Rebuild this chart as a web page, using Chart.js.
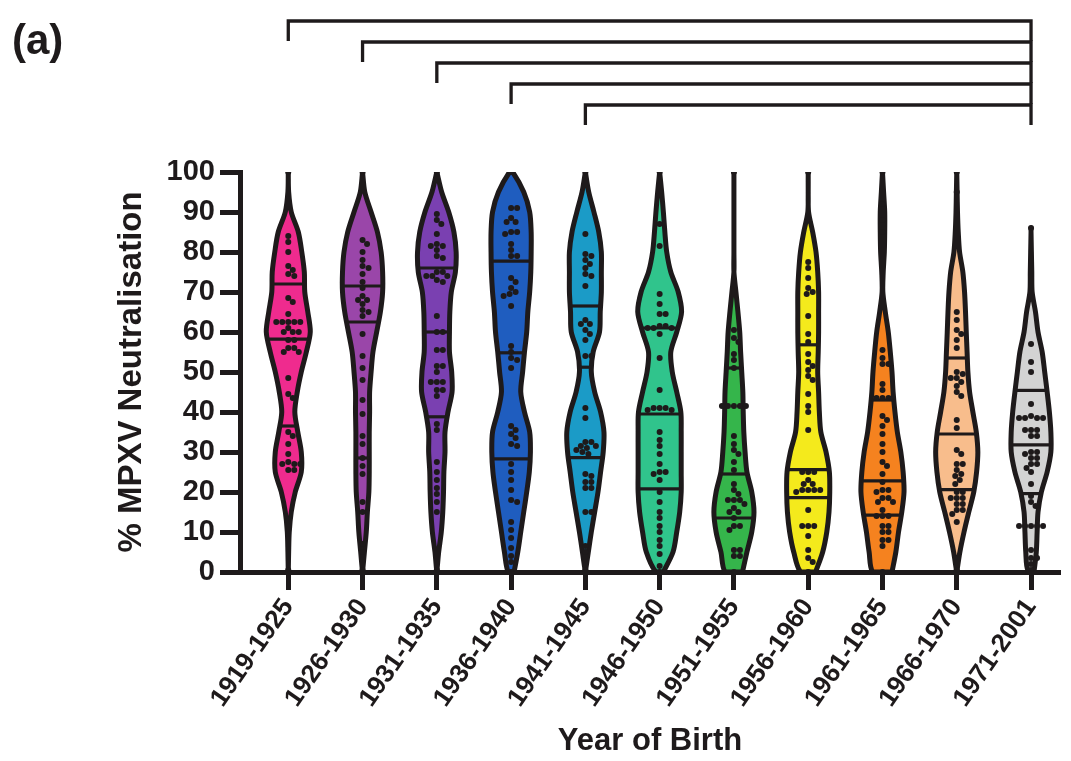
<!DOCTYPE html>
<html>
<head>
<meta charset="utf-8">
<script src="https://cdn.jsdelivr.net/npm/chart.js@4.4.0/dist/chart.umd.min.js"></script>
<style>
html,body{margin:0;padding:0;background:#ffffff;}
#wrap{width:1071px;height:761px;position:relative;}
</style>
</head>
<body>
<div id="wrap"><canvas id="c" width="1071" height="761"></canvas></div>
<script>
// ---------- data ----------
const panelLabel = '(a)';
const xTitle = 'Year of Birth';
const yTitle = '% MPXV Neutralisation';
const categories = ['1919-1925','1926-1930','1931-1935','1936-1940','1941-1945','1946-1950','1951-1955','1956-1960','1961-1965','1966-1970','1971-2001'];
const yTicks = [0,10,20,30,40,50,60,70,80,90,100];

// density profile levels (% neutralisation) and violin half-widths (hundredths of a category)
const levels = [0,5,10,15,20,25,30,35,40,45,50,55,60,65,70,75,80,85,90,95,100];
const width_1919_1925 = [0,0.5,1.3,4,9.4,17.5,17.5,12.8,8.8,12.1,17.5,24.3,29.6,26.3,22.2,21.6,18.2,13.5,4,0.5,0];
const width_1926_1930 = [0,2.5,5,6.5,8.5,9,9,9,9.5,9.5,11.5,14,19,24,27,27,25,20,11.5,3,0];
const width_1931_1935 = [0,2.5,6,8,9,9.5,11,11,15,20.5,20,17,17,17.5,19.5,25,26,23,16,6.5,0];
const width_1936_1940 = [4,9,13,17,21,24.5,26,25,18,13,15.5,18,21,22.5,25,26.5,27,27,25,17,2];
const width_1941_1945 = [0,4,8,12.5,17,20.5,24,25,20.5,12.5,8,10.5,19,20,21.5,21.5,21.5,18,11.5,4.5,0];
const width_1946_1950 = [5,18,23,27,29,29,29,29,28.5,23,17,15,23,29.5,25,15,9.5,7,5,2.7,0];
const width_1951_1955 = [11.5,17.5,24,27,24,17.5,15,13.3,12.5,12,10.5,9,7.8,5.4,2.7,0,0,0,0,0,0];
const width_1956_1960 = [10,19.5,25,28,29,28.5,24,17,15,14,12.8,13.5,14,14,14,12.8,10.5,6,0.5,0,0];
const width_1961_1965 = [12.8,18,21.6,26,29,27.8,24.7,20,16.8,14.3,12.8,10.5,7.8,3.8,0.5,1,2.5,3,3,1.5,0];
const width_1966_1970 = [0,4.2,9.8,16.2,22.9,26.7,28.4,26.3,21.7,17.3,15,13.9,12.8,11.8,10.5,8.2,3.8,2,1,0.5,0];
const width_1971_2001 = [4,7.1,8.2,9.4,13.9,21.7,26.7,26.7,24.7,21.7,18.4,15,9.4,6,1.5,1,0.5,0,0,0,0];

// individual donors
const dots_1919_1925 = [100,84,82.5,80,76.5,75.5,74.5,74,68.5,67.5,64.5,62.5,62.5,62.5,62.5,62.5,61,60,60,60,58,58,56,56,55,55,48.5,44.5,43.5,35,34,32,29.5,27.5,27,27,27,25.5,25.5,0.5];
const dots_1926_1930 = [100,83,82,80,78,76.5,76,74.5,72.5,71,69,68,68,67,65.5,65,64,59.5,54,51,48,43,39.5,34,32,28.5,26.5,24.5,17.5,15,7,5,0.5];
const dots_1931_1935 = [100,89.5,88,87,84.5,82,81.5,81.5,80.5,79,78.5,75,75,74,74,74,73,72.5,64,60,60,55.5,55.5,51.5,51.5,50,47.5,47.5,47.5,45.5,45.5,44,37,35.5,27.5,25,23,21,19.5,17.5,15,0.5];
const dots_1936_1940 = [100,91,91,88.5,87.5,87.5,85,85,84.5,82,80.5,79,79,73.5,72.5,71,70,69.5,69,66.5,56.5,55,53.5,53,51,36.5,35.5,34.5,33.5,32,31.5,27,25,23,20.5,18,17.5,12.5,10.5,8.5,6,4,2.5,0];
const dots_1941_1945 = [100,84.5,79.5,79,78,77,76,74.5,74,71.5,63,62,62,60.5,59.5,58,54,54,41,38.5,32.5,32.5,31.5,31.5,31,30.5,30,29.5,24.5,24,22.5,22.5,21,21,15,15,6.5,5,0.5];
const dots_1946_1950 = [100,87,81.5,69.5,67,64.5,64.5,61.5,61.5,61,61,61,59.5,53.5,45.5,41,41,41,40.5,40.5,35,33,31.5,29.5,27,25,25,24.5,23,20,17.5,15,13.5,11.5,10,8,6.5,4.5,1.5,0];
const dots_1951_1955 = [100,60.5,58.5,57.5,54.5,53,51,41.5,41.5,41.5,41.5,41.5,34,32,30.5,29.5,27.5,25.5,22,20.5,19.5,18,18,18,17,16,15,15,13.5,11.5,11.5,10.5,5.5,5.5,4,4,0];
const dots_1956_1960 = [100,77.5,76,73.5,71,70,69.5,64,59.5,57.5,54.5,52.5,51.5,50.5,49,48,44.5,41.5,40,35.5,25,25,25,23,22,22,20.5,20.5,20.5,20.5,20,15.5,11.5,11.5,11.5,9,5.5,3.5,2.5,0];
const dots_1961_1965 = [100,92,88,85,55.5,53.5,52,52,47,45.5,43.5,43.5,43.5,39,38,36.5,34.5,32,30,27.5,26.5,24.5,22.5,20.5,20.5,20,18.5,18.5,17.5,17.5,15.5,14,14,14,11.5,11.5,10,10,8,8,6.5,0];
const dots_1966_1970 = [100,95,65,63,60.5,59.5,58,56,50,49.5,48.5,48.5,47.5,46.5,45,44,38,36,30.5,29.5,27,27,25.5,24.5,24,23,22,20,20,18.5,18.5,18.5,17,17,15.5,15.5,14.5,12.5,0.5];
const dots_1971_2001 = [86,57,52.5,50,42,39,38.5,38.5,38.5,38.5,35.5,35.5,35.5,34,34,30,30,29.5,28.5,28.5,27,27,26,25,22,19,17.5,16.5,11.5,11.5,11.5,11.5,11.5,5.5,3.5,3.5,2,0.5];

// quartiles (upper, median, lower)
const upperQuartiles = [72,71.5,76,77.7,66.5,61,51,56.8,43,53.5,45.4];
const medians        = [58.2,62.5,60,54.8,51.2,39.5,24.5,25.6,22.8,34.5,31.8];
const lowerQuartiles = [36.5,28.5,38.8,28.3,28.6,20.8,13.5,18.6,14.2,20.6,19.6];

// significance comparisons [from, to]
const comparisons = [[0,10],[1,10],[2,10],[3,10],[4,10]];

// ---------- styles ----------
const violinColors = ['#ef2b8e','#9a46a9','#7a40b1','#1f5dbf','#1b9bc7','#30c48c','#35b54b','#f4ea1c','#f5821f','#f8bd8c','#d3d3d3'];
const ink = '#1e1a1b';
const FONT = '"Liberation Sans", Arial, Helvetica, sans-serif';

const profiles = [width_1919_1925,width_1926_1930,width_1931_1935,width_1936_1940,width_1941_1945,width_1946_1950,width_1951_1955,width_1956_1960,width_1961_1965,width_1966_1970,width_1971_2001];
const dotSets = [dots_1919_1925,dots_1926_1930,dots_1931_1935,dots_1936_1940,dots_1941_1945,dots_1946_1950,dots_1951_1955,dots_1956_1960,dots_1961_1965,dots_1966_1970,dots_1971_2001];

function widthAt(profile, y) {
  if (y <= levels[0]) return profile[0] / 100;
  for (let k = 1; k < levels.length; k++) {
    if (y <= levels[k]) {
      const t = (y - levels[k-1]) / (levels[k] - levels[k-1]);
      return (profile[k-1] + t * (profile[k] - profile[k-1])) / 100;
    }
  }
  return profile[profile.length - 1] / 100;
}
function outline(i, profile, lo, hi) {
  const ys = [lo].concat(levels.filter(v => v > lo && v < hi), [hi]);
  const right = ys.map(y => ({x: i + widthAt(profile, y), y}));
  const left = ys.slice().reverse().map(y => ({x: i - widthAt(profile, y), y}));
  return right.concat(left, [right[0]]);
}

const datasets = [];
// violins
profiles.forEach((p, i) => {
  const vals = dotSets[i];
  datasets.push({
    data: outline(i, p, Math.min(...vals), Math.max(...vals)),
    showLine: true, fill: 'shape', backgroundColor: violinColors[i],
    borderColor: ink, borderWidth: 5, borderJoinStyle: 'round', borderCapStyle: 'round',
    pointRadius: 0, tension: 0.3, order: 3
  });
});
// quartile lines
profiles.forEach((p, i) => {
  [upperQuartiles[i], medians[i], lowerQuartiles[i]].forEach(q => {
    const w = widthAt(p, q);
    datasets.push({
      data: [{x: i - w, y: q}, {x: i + w, y: q}],
      showLine: true, borderColor: ink, borderWidth: 3.2, pointRadius: 0, tension: 0, order: 2
    });
  });
});
// dots
const dotStart = datasets.length;
dotSets.forEach((vals, i) => {
  datasets.push({
    data: vals.map(v => ({x: i, y: v})),
    showLine: false, pointRadius: 3, pointBackgroundColor: ink, pointBorderWidth: 0, order: 0
  });
});
// significance brackets
const bracketTop = 137.75, bracketStep = 5.25, bracketDrop = 5;
comparisons.forEach(([a, b], k) => {
  const lvl = bracketTop - k * bracketStep;
  datasets.push({
    data: [{x: a, y: lvl - bracketDrop}, {x: a, y: lvl}, {x: b, y: lvl}, {x: b, y: lvl - bracketDrop}],
    showLine: true, borderColor: ink, borderWidth: 3.3, pointRadius: 0, tension: 0,
    clip: false, order: 4, borderJoinStyle: 'miter'
  });
});

const labelPlugin = {
  id: 'panelLabel',
  afterDraw(chart) {
    const ctx = chart.ctx;
    ctx.save();
    ctx.font = 'bold 42px ' + FONT;
    ctx.fillStyle = ink;
    ctx.textBaseline = 'alphabetic';
    ctx.textAlign = 'left';
    ctx.fillText(panelLabel, 12, 54);
    ctx.restore();
  }
};

const chart = new Chart(document.getElementById('c'), {
  type: 'scatter',
  data: {datasets},
  plugins: [labelPlugin],
  options: {
    responsive: false,
    devicePixelRatio: 1,
    animation: false,
    layout: {padding: {left: 100, top: 172, right: 11, bottom: 0}},
    plugins: {legend: {display: false}, tooltip: {enabled: false}},
    scales: {
      x: {
        type: 'linear', min: -0.65, max: 10.39,
        afterBuildTicks: s => { s.ticks = categories.map((_, i) => ({value: i})); },
        afterFit: s => { s.height = 189; },
        ticks: {
          callback: v => categories[v] !== undefined ? categories[v] : '',
          font: {family: FONT, size: 26, weight: 'bold'}, color: ink,
          minRotation: 55, maxRotation: 55, autoSkip: false, padding: 3
        },
        grid: {display: true, drawOnChartArea: false, drawTicks: true, tickLength: 18, tickWidth: 5, tickColor: ink},
        border: {display: true, width: 5, color: ink},
        title: {display: true, text: xTitle, color: ink, font: {family: FONT, size: 31, weight: 'bold'}, padding: {top: 0, bottom: 1}}
      },
      y: {
        type: 'linear', min: 0, max: 100,
        afterBuildTicks: s => { s.ticks = yTicks.map(v => ({value: v})); },
        afterFit: s => { s.width = 140; },
        ticks: {font: {family: FONT, size: 29, weight: 'bold'}, color: ink, padding: 5},
        grid: {display: true, drawOnChartArea: false, drawTicks: true, tickLength: 20, tickWidth: 5, tickColor: ink},
        border: {display: true, width: 5, color: ink},
        title: {display: true, text: yTitle, color: ink, font: {family: FONT, size: 33, weight: 'bold'}, padding: {top: 12, bottom: 0}}
      }
    }
  }
});

// beeswarm spread of dots using the chart's own scales
(function spread() {
  const xs = chart.scales.x, ys = chart.scales.y;
  const diam = 6;
  dotSets.forEach((vals, i) => {
    const cx = xs.getPixelForValue(i);
    const placed = [];
    const out = new Array(vals.length);
    const order = vals.map((v, k) => k).sort((a, b) => vals[b] - vals[a]);
    order.forEach(k => {
      const py = ys.getPixelForValue(vals[k]);
      let px = cx;
      for (let s = 0; s < 200; s++) {
        const off = Math.ceil(s / 2) * 0.5 * (s % 2 === 1 ? 1 : -1);
        const cand = cx + off;
        if (placed.every(p => (p[0]-cand)*(p[0]-cand) + (p[1]-py)*(p[1]-py) >= diam*diam - 0.01)) { px = cand; break; }
      }
      placed.push([px, py]);
      out[k] = {x: xs.getValueForPixel(px), y: vals[k]};
    });
    chart.data.datasets[dotStart + i].data = out;
  });
  chart.update('none');
})();
</script>
</body>
</html>
